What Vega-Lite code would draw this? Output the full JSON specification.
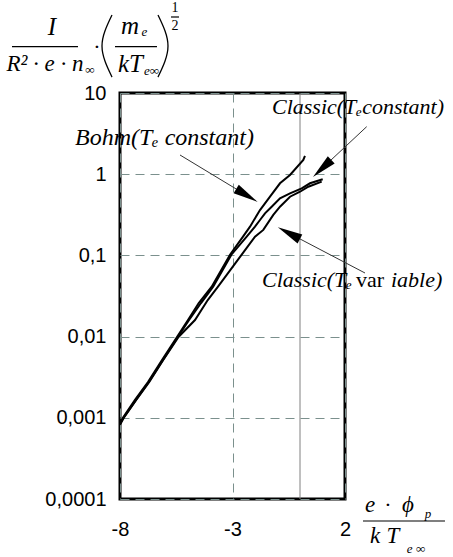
{
  "$schema": "https://vega.github.io/schema/vega-lite/v6.json",
  "width": 225,
  "height": 406,
  "autosize": {"type": "none"},
  "padding": {"left": 120, "top": 93, "right": 108, "bottom": 58},
  "background": "white",
  "config": {
    "view": {"stroke": "#000000", "strokeWidth": 3},
    "axis": {
      "labelFont": "Liberation Sans",
      "labelFontSize": 20,
      "labelColor": "#000000",
      "ticks": false,
      "domain": false,
      "grid": true,
      "gridColor": "#7b908d",
      "gridDash": [9, 6],
      "gridWidth": 1,
      "labelFlush": false,
      "labelOverlap": false,
      "labelBound": false,
      "title": null
    }
  },
  "datasets": {
    "curves": [
      {"series": "Bohm", "x": -8, "y": 0.00084}, {"series": "Bohm", "x": -7.87, "y": 0.001}, {"series": "Bohm", "x": -7.333, "y": 0.00166}, {"series": "Bohm", "x": -6.756, "y": 0.00276}, {"series": "Bohm", "x": -6.133, "y": 0.00515}, {"series": "Bohm", "x": -5.467, "y": 0.0099}, {"series": "Bohm", "x": -4.978, "y": 0.016}, {"series": "Bohm", "x": -4.5, "y": 0.0259}, {"series": "Bohm", "x": -3.924, "y": 0.0412}, {"series": "Bohm", "x": -3.111, "y": 0.102}, {"series": "Bohm", "x": -2.533, "y": 0.17}, {"series": "Bohm", "x": -2.222, "y": 0.226}, {"series": "Bohm", "x": -1.778, "y": 0.362}, {"series": "Bohm", "x": -1.333, "y": 0.528}, {"series": "Bohm", "x": -0.889, "y": 0.773}, {"series": "Bohm", "x": -0.444, "y": 0.977}, {"series": "Bohm", "x": 0.147, "y": 1.5}, {"series": "Bohm", "x": 0.22, "y": 1.68},
      {"series": "ClassicC", "x": -8, "y": 0.00086}, {"series": "ClassicC", "x": -7.84, "y": 0.001}, {"series": "ClassicC", "x": -7.29, "y": 0.00166}, {"series": "ClassicC", "x": -6.72, "y": 0.00276}, {"series": "ClassicC", "x": -6.09, "y": 0.00515}, {"series": "ClassicC", "x": -5.43, "y": 0.0099}, {"series": "ClassicC", "x": -4.93, "y": 0.016}, {"series": "ClassicC", "x": -4.4, "y": 0.0259}, {"series": "ClassicC", "x": -3.86, "y": 0.0412}, {"series": "ClassicC", "x": -3.05, "y": 0.102}, {"series": "ClassicC", "x": -2.369, "y": 0.17}, {"series": "ClassicC", "x": -2.0, "y": 0.226}, {"series": "ClassicC", "x": -1.778, "y": 0.273}, {"series": "ClassicC", "x": -1.556, "y": 0.33}, {"series": "ClassicC", "x": -1.258, "y": 0.398}, {"series": "ClassicC", "x": -0.889, "y": 0.505}, {"series": "ClassicC", "x": -0.444, "y": 0.582}, {"series": "ClassicC", "x": 0.076, "y": 0.67}, {"series": "ClassicC", "x": 0.444, "y": 0.773}, {"series": "ClassicC", "x": 1.009, "y": 0.865},
      {"series": "ClassicV", "x": -8, "y": 0.00082}, {"series": "ClassicV", "x": -7.83, "y": 0.001}, {"series": "ClassicV", "x": -7.28, "y": 0.00166}, {"series": "ClassicV", "x": -6.7, "y": 0.00276}, {"series": "ClassicV", "x": -6.08, "y": 0.00515}, {"series": "ClassicV", "x": -5.4, "y": 0.0099}, {"series": "ClassicV", "x": -4.667, "y": 0.016}, {"series": "ClassicV", "x": -4.1, "y": 0.0282}, {"series": "ClassicV", "x": -3.644, "y": 0.0412}, {"series": "ClassicV", "x": -2.591, "y": 0.102}, {"series": "ClassicV", "x": -2.0, "y": 0.17}, {"series": "ClassicV", "x": -1.631, "y": 0.206}, {"series": "ClassicV", "x": -1.187, "y": 0.315}, {"series": "ClassicV", "x": -0.889, "y": 0.398}, {"series": "ClassicV", "x": -0.444, "y": 0.528}, {"series": "ClassicV", "x": 0.0, "y": 0.608}, {"series": "ClassicV", "x": 0.369, "y": 0.701}, {"series": "ClassicV", "x": 0.964, "y": 0.809}
    ],
    "zeroLine": [{"x": 0, "y": 0.0001, "y2": 10}],
    "arrows": [
      {"x": -2.36, "y": 0.547, "x2": -5.333, "y2": 1.724, "angle": 121},
      {"x": 0.982, "y": 1.18, "x2": 2.964, "y2": 3.85, "angle": -133},
      {"x": -0.493, "y": 0.188, "x2": 2.889, "y2": 0.0607, "angle": -62}
    ],
    "labelBohm": [
      {"t": "Bohm(Tₑ constant)", "x": -10.0, "y": 2.79}
    ],
    "labels": [
      {"t": "Classic(Tₑconstant)", "x": -1.244, "y": 6.73},
      {"t": "Classic(Tₑ", "x": -1.689, "y": 0.0498},
      {"t": "iable)", "x": 4.044, "y": 0.0498}
    ],
    "labelsUp": [
      {"t": "var", "x": 2.489, "y": 0.0498}
    ],
    "mathI": [
      {"t": "I", "x": -11.022, "y": 65.0},
      {"t": "m", "x": -7.556, "y": 66.8},
      {"t": "kT", "x": -7.533, "y": 22.8}
    ],
    "mathD": [
      {"t": "R² · e · n", "x": -11.333, "y": 22.8}
    ],
    "mathX": [
      {"t": "e", "x": 3.111, "y": 0.0000843},
      {"t": "ϕ", "x": 4.8, "y": 0.0000843},
      {"t": "k", "x": 3.333, "y": 0.000035},
      {"t": "T", "x": 4.133, "y": 0.000035}
    ],
    "mathU": [
      {"t": "·", "x": -9.022, "y": 37.0},
      {"t": "·", "x": 3.911, "y": 0.0000843}
    ],
    "mathS": [
      {"t": "∞", "x": -9.333, "y": 19.2},
      {"t": "e", "x": -6.911, "y": 56.4},
      {"t": "e∞", "x": -6.6, "y": 18.7},
      {"t": "p", "x": 5.689, "y": 0.0000653},
      {"t": "e ∞", "x": 5.156, "y": 0.0000242}
    ],
    "mathSU": [
      {"t": "1", "x": -5.556, "y": 111.4},
      {"t": "2", "x": -5.556, "y": 66.8}
    ],
    "bars": [
      {"x": -12.8, "x2": -9.867, "y": 37.2},
      {"x": -8.222, "x2": -6.356, "y": 37.2},
      {"x": -5.733, "x2": -5.378, "y": 86.3},
      {"x": 2.8, "x2": 6.444, "y": 0.0000536}
    ],
    "parens": [
      {"p": "l", "o": 1, "x": -8.356, "y": 91.3}, {"p": "l", "o": 2, "x": -8.8, "y": 37.9}, {"p": "l", "o": 3, "x": -8.356, "y": 15.7},
      {"p": "r", "o": 1, "x": -6.311, "y": 91.3}, {"p": "r", "o": 2, "x": -5.867, "y": 37.9}, {"p": "r", "o": 3, "x": -6.311, "y": 15.7}
    ]
  },
  "encoding": {
    "x": {
      "field": "x", "type": "quantitative",
      "scale": {"domain": [-8, 2], "nice": false, "zero": false},
      "axis": {"values": [-8, -3, 2], "labelExpr": "'' + datum.value", "labelPadding": 20}
    },
    "y": {
      "field": "y", "type": "quantitative",
      "scale": {"type": "log", "domain": [0.0001, 10], "nice": false},
      "axis": {"values": [0.0001, 0.001, 0.01, 0.1, 1, 10], "labelExpr": "replace('' + datum.value, '.', ',')", "labelPadding": 14}
    }
  },
  "layer": [
    {
      "data": {"name": "zeroLine"},
      "mark": {"type": "rule", "color": "#808080", "strokeWidth": 1},
      "encoding": {"y2": {"field": "y2"}}
    },
    {
      "data": {"name": "curves"},
      "mark": {"type": "line", "color": "#000000", "strokeWidth": 2},
      "encoding": {"detail": {"field": "series", "type": "nominal"}}
    },
    {
      "data": {"name": "arrows"},
      "mark": {"type": "rule", "color": "#333333", "strokeWidth": 1},
      "encoding": {"x2": {"field": "x2"}, "y2": {"field": "y2"}}
    },
    {
      "data": {"name": "arrows"},
      "mark": {"type": "point", "shape": "M0,-1L0.4,1L-0.4,1Z", "filled": true, "color": "#000000", "opacity": 1, "size": 625},
      "encoding": {"angle": {"field": "angle", "type": "quantitative", "scale": null}}
    },
    {
      "data": {"name": "labelBohm"},
      "mark": {"type": "text", "font": "Liberation Serif", "fontStyle": "italic", "fontSize": 24, "align": "left", "baseline": "middle", "color": "#000000"},
      "encoding": {"text": {"field": "t"}}
    },
    {
      "data": {"name": "labels"},
      "mark": {"type": "text", "font": "Liberation Serif", "fontStyle": "italic", "fontSize": 22, "align": "left", "baseline": "middle", "color": "#000000"},
      "encoding": {"text": {"field": "t"}}
    },
    {
      "data": {"name": "labelsUp"},
      "mark": {"type": "text", "font": "Liberation Serif", "fontSize": 22, "align": "left", "baseline": "middle", "color": "#000000"},
      "encoding": {"text": {"field": "t"}}
    },
    {
      "data": {"name": "mathI"},
      "mark": {"type": "text", "font": "Liberation Serif", "fontStyle": "italic", "fontSize": 25, "align": "center", "baseline": "middle", "color": "#000000"},
      "encoding": {"text": {"field": "t"}}
    },
    {
      "data": {"name": "mathD"},
      "mark": {"type": "text", "font": "Liberation Serif", "fontStyle": "italic", "fontSize": 23, "align": "center", "baseline": "middle", "color": "#000000"},
      "encoding": {"text": {"field": "t"}}
    },
    {
      "data": {"name": "mathX"},
      "mark": {"type": "text", "font": "Liberation Serif", "fontStyle": "italic", "fontSize": 23, "align": "center", "baseline": "middle", "color": "#000000"},
      "encoding": {"text": {"field": "t"}}
    },
    {
      "data": {"name": "mathU"},
      "mark": {"type": "text", "font": "Liberation Serif", "fontSize": 22, "align": "center", "baseline": "middle", "color": "#000000"},
      "encoding": {"text": {"field": "t"}}
    },
    {
      "data": {"name": "mathS"},
      "mark": {"type": "text", "font": "Liberation Serif", "fontStyle": "italic", "fontSize": 13, "align": "center", "baseline": "middle", "color": "#000000"},
      "encoding": {"text": {"field": "t"}}
    },
    {
      "data": {"name": "mathSU"},
      "mark": {"type": "text", "font": "Liberation Serif", "fontSize": 14, "align": "center", "baseline": "middle", "color": "#000000"},
      "encoding": {"text": {"field": "t"}}
    },
    {
      "data": {"name": "bars"},
      "mark": {"type": "rule", "color": "#000000", "strokeWidth": 1.2},
      "encoding": {"x2": {"field": "x2"}}
    },
    {
      "data": {"name": "parens"},
      "mark": {"type": "line", "color": "#000000", "strokeWidth": 1.3, "interpolate": "natural"},
      "encoding": {"detail": {"field": "p", "type": "nominal"}, "order": {"field": "o", "type": "quantitative"}}
    }
  ]
}
